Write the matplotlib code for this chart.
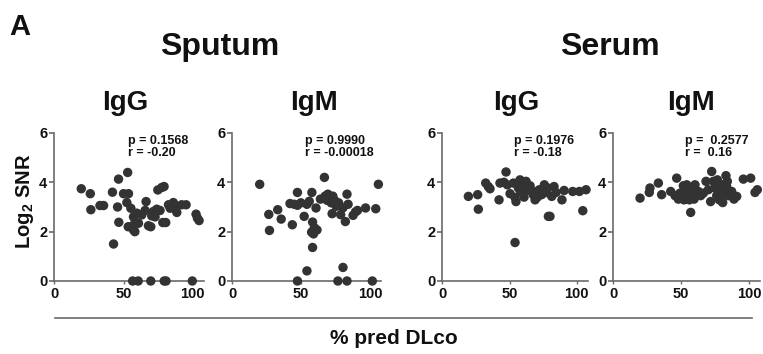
import numpy as np
import matplotlib
matplotlib.use("Agg")
import matplotlib.pyplot as plt
from matplotlib.lines import Line2D

plt.rcParams['font.family'] = ['Liberation Sans', 'DejaVu Sans']
plt.rcParams['font.weight'] = 'bold'
plt.rcParams['mathtext.fontset'] = 'custom'
plt.rcParams['mathtext.bf'] = 'Liberation Sans:bold'
plt.rcParams['mathtext.rm'] = 'Liberation Sans:bold'

# % pred DLco vs Log2 SNR, one pair of lists per panel
sput_igg_x = [19.5, 26, 26.4, 33, 35.6, 42, 42.8, 45.7, 46.4, 46.6, 50, 53, 53.6, 52.4,
              53.4, 55.3, 55.5, 57.2, 58.4, 57.2, 58.2, 59.6, 60.8, 63.2, 65.6, 66.3, 68,
              69.7, 70.4, 71.6, 72.8, 74, 74.8, 77.6, 79.3, 76.4, 78.4, 80.5, 82.5, 83.7,
              86, 87.7, 88.5, 92, 95.2, 102.4, 103.4, 104.6,
              56.6, 60.6, 69.7, 79.4, 80.7, 99.7]
sput_igg_y = [3.74, 3.54, 2.89, 3.06, 3.06, 3.6, 1.5, 3.0, 4.13, 2.38, 3.54, 4.4, 3.54, 3.18,
              2.2, 2.95, 2.2, 2.6, 2.4, 2.07, 2.0, 2.75, 2.34, 2.68, 2.86, 3.22, 2.24,
              2.2, 2.64, 2.82, 2.6, 2.91, 3.69, 3.79, 3.83, 2.86, 2.37, 2.37, 3.09, 2.95,
              3.18, 3.0, 2.78, 3.09, 3.09, 2.71, 2.55, 2.45,
              0, 0, 0, 0, 0, 0]

sput_igm_x = [19.9, 26.5, 27, 33, 35.5, 41.9, 43.6, 45, 47.3, 47.3, 49.8, 52.2, 54.2, 55.9,
              57.8, 58.3, 59.6, 57.6, 59, 61.5, 60.8, 58.3, 54.2, 64, 66.9, 67.4, 68.9,
              69.4, 70.6, 71.8, 73, 72.5, 74.3, 75.5, 77.2, 78.7, 80.4, 82.1, 83.3, 84.1,
              87.7, 89.5, 90.9, 96.8, 104.2, 106.1, 80.4,
              47.3, 76.7, 83.3, 101.7]
sput_igm_y = [3.92, 2.7, 2.05, 2.89, 2.51, 3.14, 2.28, 3.11, 3.59, 3.07, 3.17, 2.62, 3.11, 3.23,
              3.59, 2.39, 2.16, 1.98, 1.91, 2.07, 2.96, 1.36, 0.41, 3.32, 4.2, 3.44, 3.27,
              3.52, 3.34, 3.17, 3.44, 2.73, 3.27, 3.03, 3.17, 2.69, 2.97, 2.41, 3.52, 3.11,
              2.66, 2.8, 2.86, 2.96, 2.93, 3.92, 0.55,
              0, 0, 0, 0]

ser_igg_x = [19.4, 26.3, 26.8, 32.3, 34.2, 35.5, 42.2, 42.9, 45.9, 47.4, 48.4, 50.4, 52.9,
             54.1, 54.8, 54.1, 56.6, 57.8, 58.3, 59.8, 60.8, 62.3, 64, 65.3, 66.5, 67.7,
             69, 70.2, 70.7, 72.2, 73.9, 75.2, 75.9, 77.2, 78.4, 78.9, 80.1, 81.4, 83.1,
             84.6, 89, 90.6, 97, 102, 104.5, 106.9]
ser_igg_y = [3.43, 3.5, 2.91, 3.97, 3.83, 3.74, 3.29, 3.97, 4.0, 4.42, 3.9, 3.54, 3.97,
             3.39, 3.22, 1.56, 3.77, 4.1, 3.63, 3.9, 3.4, 4.04, 3.7, 3.86, 3.63, 3.5,
             3.29, 3.63, 3.4, 3.7, 3.5, 3.7, 3.9, 3.59, 3.77, 2.62, 2.62, 3.43, 3.83,
             3.59, 3.29, 3.67, 3.63, 3.63, 2.85, 3.7]

ser_igm_x = [19.7, 26.5, 27, 33.2, 35.6, 42.3, 46.7, 45.5, 47.9, 49.1, 51.6, 52.1, 53.6,
             54.1, 55.3, 56, 57, 57.7, 58.5, 59.5, 60.2, 62.7, 64.4, 66.3, 68.3, 70,
             71.7, 72.5, 73.7, 74.9, 76.2, 76.7, 78.1, 79.1, 79.9, 80.6, 81.6, 83, 83.5,
             84, 84.8, 87.2, 88.9, 90.9, 95.8, 101.2, 104.4, 106.1]
ser_igm_y = [3.36, 3.59, 3.77, 3.97, 3.5, 3.63, 4.17, 3.46, 3.32, 3.56, 3.86, 3.29, 3.63,
             3.9, 3.5, 3.29, 2.78, 3.77, 3.56, 3.32, 3.9, 3.63, 3.46, 3.56, 4.04, 3.7,
             3.22, 4.44, 4.04, 3.77, 3.46, 4.1, 3.29, 3.7, 3.9, 3.18, 3.53, 4.27, 3.83,
             4.04, 3.46, 3.63, 3.32, 3.43, 4.13, 4.17, 3.59, 3.7]

stats = ["p = 0.1568\nr = -0.20", "p = 0.9990\nr = -0.00018",
         "p = 0.1976\nr = -0.18", "p =  0.2577\nr =  0.16"]
panel_names = ["IgG", "IgM", "IgG", "IgM"]

W, H = 763, 354
fig = plt.figure(figsize=(W / 100, H / 100), dpi=100)

# axes boxes in pixels: left, width
boxes = [(54.3, 149.5), (232.3, 148.7), (442.3, 145.2), (613.3, 146.6)]
title_x = [125, 314, 516, 691]
data = [(sput_igg_x, sput_igg_y), (sput_igm_x, sput_igm_y),
        (ser_igg_x, ser_igg_y), (ser_igm_x, ser_igm_y)]

axcol = '#6a6a6a'
dotcol = '#333333'
for i, (l, w) in enumerate(boxes):
    ax = fig.add_axes([l / W, (H - 281) / H, w / W, 148 / H])
    x, y = data[i]
    ax.scatter(x, y, s=46, color=dotcol, edgecolors='none', clip_on=False, zorder=3)
    ax.set_xlim(0, 108)
    ax.set_ylim(0, 6)
    ax.set_xticks([0, 50, 100])
    ax.set_yticks([0, 2, 4, 6])
    for s in ['top', 'right']:
        ax.spines[s].set_visible(False)
    for s in ['left', 'bottom']:
        ax.spines[s].set_color(axcol)
        ax.spines[s].set_linewidth(1.2)
    ax.tick_params(axis='y', length=3.5, width=1.2, color=axcol, pad=1.5,
                   labelsize=10.5, labelcolor='#111111')
    ax.tick_params(axis='x', length=2, width=1.0, color=axcol, pad=2.5,
                   labelsize=10.5, labelcolor='#111111')
    for lab in ax.get_xticklabels() + ax.get_yticklabels():
        lab.set_fontweight('bold')
    ax.text(53, 5.9, stats[i], fontsize=9, fontweight='bold', color='#111111',
            va='top', ha='left', linespacing=0.95)
    fig.text(title_x[i] / W, 1 - 110 / H, panel_names[i], fontsize=20,
             fontweight='bold', ha='center', va='baseline', color='#111111')

fig.text(9 / W, 1 - 35 / H, "A", fontsize=21, fontweight='bold', va='baseline',
         color='#111111')
fig.text(220 / W, 1 - 55 / H, "Sputum", fontsize=23, fontweight='bold',
         ha='center', va='baseline', color='#111111')
fig.text(610 / W, 1 - 55 / H, "Serum", fontsize=23, fontweight='bold',
         ha='center', va='baseline', color='#111111')

fig.text(25 / W, 1 - 201 / H, r"Log$_\mathbf{2}$ SNR", fontsize=14.5, fontweight='bold',
         rotation=90, ha='center', va='center', color='#111111')

# shared x label with rule above it
fig.add_artist(Line2D([55 / W, 752 / W], [1 - 318 / H, 1 - 318 / H],
                      color=axcol, lw=1.2))
fig.text(394 / W, 1 - 339 / H, "% pred DLco", fontsize=15, fontweight='bold',
         ha='center', va='center', color='#111111')

fig.savefig("out.png", dpi=100)
